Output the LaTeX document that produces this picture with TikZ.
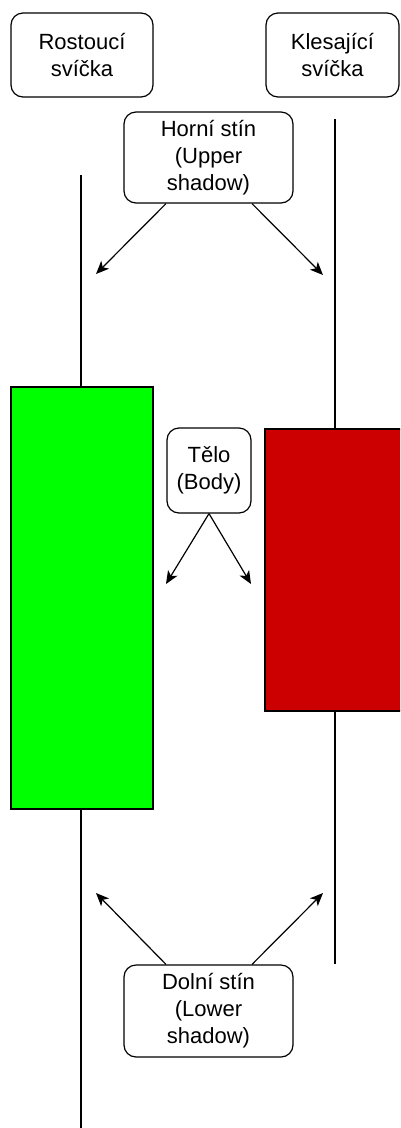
\documentclass[tikz,border=0pt]{standalone}
\usepackage{fontspec}
\setmainfont{Liberation Sans}
\usetikzlibrary{arrows.meta}
\definecolor{bull}{HTML}{00FF00}
\definecolor{bear}{HTML}{CC0000}
\begin{document}
\begin{tikzpicture}[x=1pt,y=-1pt,
  lbl/.style={draw, line width=1.2pt, rounded corners=12pt, fill=white, align=center,
    inner sep=0pt, font=\fontsize{22}{27}\selectfont},
  candle/.style={draw, line width=1.2pt, inner sep=0pt},
  wick/.style={line width=1.2pt},
  arr/.style={line width=1.2pt, -{Stealth[length=13pt,width=11pt,inset=3.5pt]}}]
\useasboundingbox (0,0) rectangle (400,1128);
\clip (0,0) rectangle (400,1128);
% wicks
\coordinate (lt) at (81,175);
\coordinate (lb) at (81,1128);
\coordinate (rt) at (335,119);
\coordinate (rb) at (335,964);
\draw[wick] (lt) -- (lb);
\draw[wick] (rt) -- (rb);
% bodies
\node[candle, fill=bull, minimum width=142pt, minimum height=422pt] (green) at (82,598) {};
\node[candle, fill=bear, minimum width=150pt, minimum height=282pt] (red) at (340,570) {};
% labels
\node[lbl, minimum width=142pt, minimum height=84pt] (rost) at (82,55) {Rostoucí\\svíčka};
\node[lbl, minimum width=133pt, minimum height=84pt] (kles) at (332.5,55) {Klesající\\svíčka};
\node[lbl, minimum width=169pt, minimum height=91pt] (hs) at (208.5,157.5) {Horní stín\\(Upper\\shadow)};
\node[lbl, minimum width=84pt, minimum height=85pt] (telo) at (209,470.5) {Tělo\\(Body)};
\node[lbl, minimum width=169pt, minimum height=92pt] (ds) at (208.5,1011) {Dolní stín\\(Lower\\shadow)};
% arrow targets
\coordinate (h1) at (96,274);
\coordinate (h2) at (323,275);
\coordinate (t1) at (166,584);
\coordinate (t2) at (251,584);
\coordinate (d1) at (96,893);
\coordinate (d2) at (323,893);
\draw[arr] ([xshift=-42.5pt]hs.south) -- (h1);
\draw[arr] ([xshift=43.5pt]hs.south) -- (h2);
\draw[arr] (telo.south) -- (t1);
\draw[arr] (telo.south) -- (t2);
\draw[arr] ([xshift=-42.5pt]ds.north) -- (d1);
\draw[arr] ([xshift=43.5pt]ds.north) -- (d2);
\end{tikzpicture}
\end{document}
